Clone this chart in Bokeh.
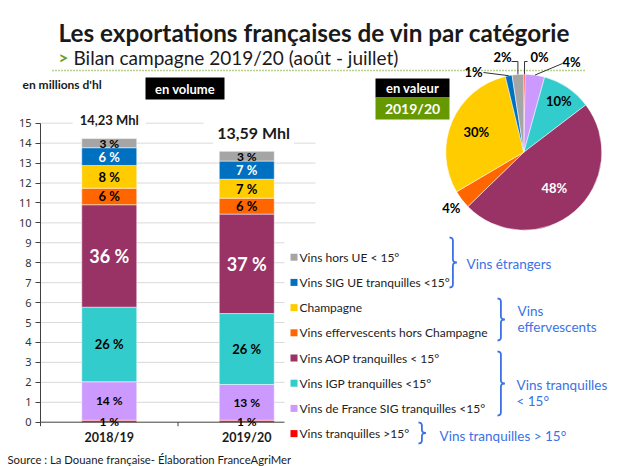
import numpy as np
from bokeh.plotting import figure
from bokeh.models import Range1d, LinearAxis, FixedTicker, Label, ColumnDataSource
from bokeh.core.properties import value
from bokeh.embed import file_html
from bokeh.resources import INLINE

# ---------------- data ----------------
campaigns = ["2018/19", "2019/20"]
series = ["Vins tranquilles >15°", "Vins de France SIG tranquilles <15°",
          "Vins IGP tranquilles <15°", "Vins AOP tranquilles < 15°",
          "Vins effervescents hors Champagne", "Champagne",
          "Vins SIG UE tranquilles <15°", "Vins hors UE < 15°"]
colors = ["#ff0000", "#cc99ff", "#33cccc", "#993366",
          "#ff6600", "#ffcc00", "#0070c0", "#a5a5a5"]
vol_2018_19 = [0.10, 1.93, 3.74, 5.14, 0.83, 1.14, 0.89, 0.46]
vol_2019_20 = [0.10, 1.79, 3.56, 4.99, 0.80, 0.95, 0.91, 0.49]
pct_2018_19 = ["1 %", "14 %", "26 %", "36 %", "6 %", "8 %", "6 %", "3 %"]
pct_2019_20 = ["1 %", "13 %", "26 %", "37 %", "6 %", "7 %", "7 %", "3 %"]
value_share_2019_20 = [0.3, 4.0, 10.3, 48.0, 3.8, 29.6, 1.4, 2.4]
value_labels = ["0%", "4%", "10%", "48%", "4%", "30%", "1%", "2%"]
y_ticks = list(range(0, 16))
groups = [("Vins étrangers", [7, 6]), ("Vins\neffervescents", [5, 4]),
          ("Vins tranquilles\n< 15°", [3, 2, 1]), ("Vins tranquilles > 15°", [0])]

FONT = "Lato"
AXFONT = "Noto Sans"
BLUE = "#3a72e6"
DARK = "#1a1a1a"

# --------------- geometry (page px) ---------------
W, H = 620, 466
X0_PAGE = 40                      # page x of the value axis
Y0_PAGE, Y15_PAGE = 421.7, 122.7
PPU = (Y0_PAGE - Y15_PAGE) / 15.0
XPU = 137.5

p = figure(width=W, height=H, output_backend="svg", toolbar_location=None,
           x_range=Range1d(-X0_PAGE / XPU, (W - X0_PAGE) / XPU),
           y_range=Range1d(-(H - Y0_PAGE) / PPU, Y0_PAGE / PPU),
           x_axis_type=None, y_axis_type=None,
           min_border_left=0, min_border_right=0,
           min_border_top=0, min_border_bottom=0,
           outline_line_color=None, background_fill_color="white",
           border_fill_color="white")
p.extra_x_ranges = {"px": Range1d(0, W)}
p.extra_y_ranges = {"py": Range1d(-H, 0)}
PX = dict(x_range_name="px", y_range_name="py")

# --------------- y axis (fixed at x = 0) ---------------
yax = LinearAxis(ticker=FixedTicker(ticks=y_ticks), bounds=(0, 15), fixed_location=0,
                 axis_line_color="#404040", axis_line_width=1,
                 major_tick_line_color="#404040", major_tick_out=5, major_tick_in=0,
                 minor_tick_line_color=None,
                 major_label_text_font=AXFONT, major_label_text_font_size="11px",
                 major_label_text_color="#333333", major_label_standoff=4)
p.add_layout(yax, "left")

ncat = len(campaigns)
xs = [i + 0.5 for i in range(ncat)]

# grid lines
p.segment(x0=[0] * (len(y_ticks) - 1), x1=[ncat] * (len(y_ticks) - 1),
          y0=y_ticks[1:], y1=y_ticks[1:], line_color="#d9d9d9", line_width=1)

# --------------- stacked bars ---------------
keys = [f"s{i}" for i in range(len(series))]
data = dict(x=xs)
for i, k in enumerate(keys):
    data[k] = [vol_2018_19[i], vol_2019_20[i]]
src = ColumnDataSource(data)
p.vbar_stack(keys, x="x", width=0.4, color=colors, source=src,
             line_color="white", line_width=0.5)

# x axis line and ticks at category boundaries
p.segment(x0=[0], x1=[ncat], y0=[0], y1=[0], line_color="#404040", line_width=1)
bounds = list(range(0, ncat + 1))
p.segment(x0=bounds, x1=bounds, y0=[0] * len(bounds), y1=[-4 / PPU] * len(bounds),
          line_color="#404040", line_width=1)

# white panels (legend background, title box of the second total) hiding grid ends
p.quad(left=[284, 203], right=[330, 330], top=[-226, -117], bottom=[-460, -128],
       fill_color="white", line_color=None, **PX)

p.text(x=xs, y=[0] * ncat, text=campaigns, y_offset=15, text_align="center",
       text_baseline="middle", text_font=value(FONT), text_font_style="bold",
       text_font_size="12.5px", text_color=DARK)

# segment labels
txt_colors = ["black", "black", "black", "white", "black", "black", "white", "black"]
txt_sizes = ["12px", "12px", "13px", "18px", "13px", "13px", "13px", "12px"]
lx, ly, lt, lc, ls = [], [], [], [], []
for ci, (vals, pcts) in enumerate([(vol_2018_19, pct_2018_19), (vol_2019_20, pct_2019_20)]):
    cum = np.cumsum(vals)
    mids = cum - np.array(vals) / 2
    for i in range(len(vals)):
        lx.append(xs[ci]); ly.append(float(mids[i])); lt.append(pcts[i])
        lc.append(txt_colors[i]); ls.append(txt_sizes[i])
p.text(x="x", y="y", text="t", text_color="c", text_font_size="s",
       source=ColumnDataSource(dict(x=lx, y=ly, t=lt, c=lc, s=ls)),
       text_align="center", text_baseline="middle", text_font=value(FONT),
       text_font_style="bold")

# totals
totals = [sum(vol_2018_19), sum(vol_2019_20)]
tot_sizes = ["13px", "16px"]
tot_pad = [7, 4]
tot_dx = [0, 0.05]
tot_dy = [0.95, 0.95]
for i, t in enumerate(totals):
    p.add_layout(Label(x=xs[i] + tot_dx[i], y=t + tot_dy[i],
                       text=f"{t:.2f}".replace(".", ",") + " Mhl",
                       text_align="center", text_baseline="middle",
                       text_font=FONT, text_font_style="bold",
                       text_font_size=tot_sizes[i], text_color=DARK,
                       background_fill_color="white", padding=tot_pad[i]))

# --------------- header ---------------
p.text(x=[58], y=[-31.5], text=["Les exportations françaises de vin par catégorie"],
       text_align="left", text_baseline="alphabetic", text_font=value(FONT),
       text_font_style="bold", text_font_size="24.3px", text_color=DARK, **PX)
p.text(x=[58], y=[-56.5], text=[">"], text_align="left", text_baseline="alphabetic",
       text_font=value(FONT), text_font_style="bold", text_font_size="17px",
       text_color="#66a01e", **PX)
p.text(x=[73], y=[-56.5], text=["Bilan campagne 2019/20 (août - juillet)"],
       text_align="left", text_baseline="alphabetic", text_font=value(FONT),
       text_font_size="19px", text_color=DARK, **PX)
p.segment(x0=[52], x1=[585], y0=[-70], y1=[-70], line_color="#6aa121",
          line_width=1.3, line_dash="1 2", **PX)

# unit label
p.text(x=[22], y=[-84], text=["en millions d'hl"], text_align="left",
       text_baseline="middle", text_font=value(FONT), text_font_style="bold",
       text_font_size="12px", text_color=DARK, **PX)

# boxes
p.quad(left=[145, 375], right=[224, 449], top=[-77, -78], bottom=[-99, -97],
       fill_color="black", line_color=None, **PX)
p.quad(left=[375], right=[449], top=[-97], bottom=[-119],
       fill_color="#669900", line_color=None, **PX)
p.text(x=[184.5, 412, 412], y=[-88, -87.5, -108], text=["en volume", "en valeur", "2019/20"],
       text_align="center", text_baseline="middle", text_font=value(FONT),
       text_font_style="bold", text_font_size=["13px", "13px", "14px"],
       text_color="white", **PX)

# --------------- pie ---------------
CX, CY, R = 523.3, 151.7, 78
share = np.array(value_share_2019_20, dtype=float)
frac = share / share.sum()
cum = np.cumsum(frac)
prev = np.concatenate([[0.0], cum[:-1]])
start = np.pi / 2 - 2 * np.pi * prev
end = np.pi / 2 - 2 * np.pi * cum
p.wedge(x=[CX] * len(frac), y=[-CY] * len(frac), radius=R, radius_units="screen",
        start_angle=start, end_angle=end, direction="clock",
        fill_color=colors, line_color="white", line_width=0.5, **PX)

mid_theta = 2 * np.pi * (prev + cum) / 2  # clockwise from top
rad_fac = [None, None, 0.8, 0.6, 1.17, 0.66, None, None]
plx, ply, plt_, plc = [], [], [], []
for i, f in enumerate(rad_fac):
    if f is None:
        continue
    plx.append(CX + f * R * np.sin(mid_theta[i]))
    ply.append(-(CY - f * R * np.cos(mid_theta[i])))
    plt_.append(value_labels[i])
    plc.append("white" if i == 3 else "black")
lead = {0: (539, 56), 1: (571, 61), 6: (473, 71), 7: (502, 56)}
for i, (tx, ty) in lead.items():
    plx.append(tx); ply.append(-ty); plt_.append(value_labels[i]); plc.append("black")
p.text(x="x", y="y", text="t", text_color="c",
       source=ColumnDataSource(dict(x=plx, y=ply, t=plt_, c=plc)),
       text_align="center", text_baseline="middle", text_font=value(FONT),
       text_font_style="bold", text_font_size="13px", **PX)

def edge(i, r=R):
    return CX + r * np.sin(mid_theta[i]), CY - r * np.cos(mid_theta[i])

lxs, lys = [], []
ex, ey = edge(6); lxs.append([483, ex]); lys.append([-72, -ey])
ex, ey = edge(7); lxs.append([511, ex, ex]); lys.append([-61, -61, -ey])
ex, ey = edge(0); lxs.append([527, ex, ex]); lys.append([-61, -61, -ey])
ex, ey = edge(1); lxs.append([562, ex]); lys.append([-63, -ey])
p.multi_line(xs=lxs, ys=lys, line_color="#333333", line_width=1, **PX)

# --------------- legend ---------------
row_y = [256.7 + 25.2 * k for k in range(len(series))]
order = list(range(len(series)))[::-1]
p.scatter(x=[293.5] * len(series), y=[-y for y in row_y], marker="square", size=7,
          fill_color=[colors[i] for i in order], line_color=None, **PX)
p.text(x=[299] * len(series), y=[-y for y in row_y], text=[series[i] for i in order],
       text_align="left", text_baseline="middle", text_font=value(FONT),
       text_font_size="12px", text_color="#222222", **PX)

# --------------- braces ---------------
def brace(x, yt, yb, d=3.4, tip=4.0, n=8):
    ym = (yt + yb) / 2
    pts = []
    def quad(p0, c, p1):
        for t in np.linspace(0, 1, n):
            pts.append(((1 - t) ** 2 * p0[0] + 2 * (1 - t) * t * c[0] + t ** 2 * p1[0],
                        (1 - t) ** 2 * p0[1] + 2 * (1 - t) * t * c[1] + t ** 2 * p1[1]))
    quad((x, yt), (x + d, yt), (x + d, yt + d))
    quad((x + d, ym - d), (x + d, ym), (x + d + tip, ym))
    quad((x + d + tip, ym), (x + d, ym), (x + d, ym + d))
    quad((x + d, yb - d), (x + d, yb), (x, yb))
    return [q[0] for q in pts], [-q[1] for q in pts]

brace_geo = [(449, 237, 287), (497, 298, 340), (497, 351, 415), (418, 422, 443)]
bx, by = [], []
for g in brace_geo:
    a, b = brace(*g)
    bx.append(a); by.append(b)
p.multi_line(xs=bx, ys=by, line_color=BLUE, line_width=1.8, **PX)

grp_pos = [(466, [263]), (517, [310, 326]), (516, [384, 400]), (439, [435])]
gx, gy, gt = [], [], []
for (name, _), (x0, ys_) in zip(groups, grp_pos):
    for line, yy in zip(name.split("\n"), ys_):
        gx.append(x0); gy.append(-yy); gt.append(line)
p.text(x=gx, y=gy, text=gt, text_align="left", text_baseline="middle",
       text_font=value(FONT), text_font_size="13.5px", text_color=BLUE, **PX)

# source
p.text(x=[7], y=[-459], text=["Source : La Douane française- Élaboration FranceAgriMer"],
       text_align="left", text_baseline="middle", text_font=value(FONT),
       text_font_size="11.3px", text_color=DARK, **PX)

open("out.html", "w").write(file_html(p, INLINE))
